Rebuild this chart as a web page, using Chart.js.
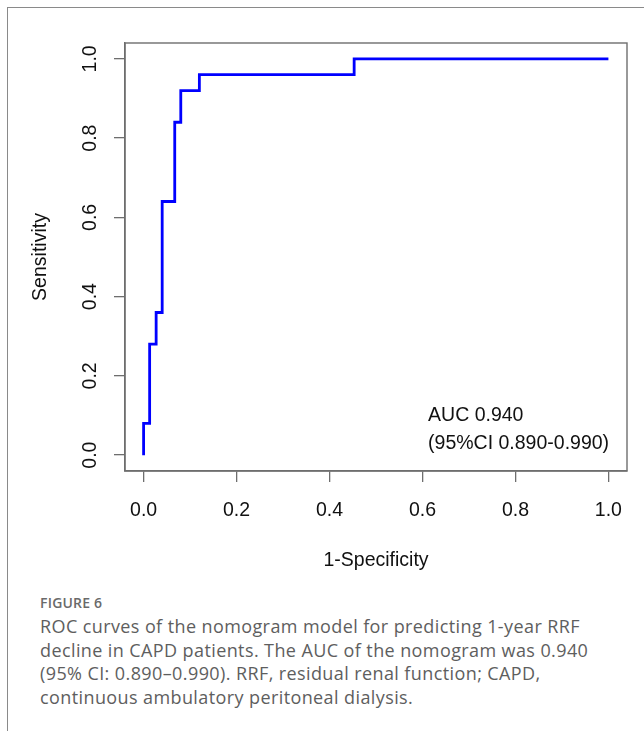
<!DOCTYPE html>
<html>
<head>
<meta charset="utf-8">
<script src="https://cdn.jsdelivr.net/npm/chart.js@4.4.1/dist/chart.umd.min.js"></script>
<style>
    html, body { margin: 0; padding: 0; background: #fff; }
    body { width: 644px; height: 731px; position: relative; overflow: hidden; }
    #frame {
        position: absolute; left: 7px; top: 7px; width: 700px; height: 760px;
        border-left: 1.5px solid #8a8a8a; border-top: 1.5px solid #8a8a8a;
    }
    #rocChart { position: absolute; left: 0; top: 0; }
    .fig-label {
        position: absolute; left: 40px; top: 593px;
        font-family: "Open Sans", sans-serif; font-size: 14px; font-weight: 600;
        color: #6a6a6a; letter-spacing: 0.2px;
    }
    .fig-caption {
        position: absolute; left: 40px; top: 615px;
        font-family: "Open Sans", sans-serif; font-size: 18px; line-height: 23.5px;
        letter-spacing: 0.4px; color: #5e5e5e; margin: 0;
    }
</style>
</head>
<body>
<div id="frame"></div>
<canvas id="rocChart" width="644" height="590"></canvas>
<div class="fig-label">FIGURE 6</div>
<p class="fig-caption">ROC curves of the nomogram model for predicting 1-year RRF<br>decline in CAPD patients. The AUC of the nomogram was 0.940<br>(95% CI: 0.890&#8211;0.990). RRF, residual renal function; CAPD,<br>continuous ambulatory peritoneal dialysis.</p>

<script>
// ROC curve vertices (1-specificity, sensitivity)
const fpr  = [0, 0, 0.013, 0.027, 0.04, 0.067, 0.08, 0.12, 0.453, 1.0];
const sens = [0, 0.08, 0.28, 0.36, 0.64, 0.84, 0.92, 0.96, 1.0, 1.0];

const xTicks = [0, 0.2, 0.4, 0.6, 0.8, 1.0];
const yTicks = [0, 0.2, 0.4, 0.6, 0.8, 1.0];

const aucLines = ['AUC 0.940', '(95%CI 0.890-0.990)'];
const aucPos = { x: 0.612, y: [0.10, 0.03] };

const axisColor = '#6e6e6e';
const labelFont = { family: 'Liberation Sans, Arial, sans-serif', size: 19.5 };

// box around the plot area, like R's box()
const boxPlugin = {
    id: 'plotBox',
    afterDraw(chart) {
        const { ctx, chartArea: a } = chart;
        ctx.save();
        ctx.strokeStyle = axisColor;
        ctx.lineWidth = 1.4;
        ctx.strokeRect(a.left, a.top, a.right - a.left, a.bottom - a.top);
        ctx.restore();
    }
};

// AUC annotation placed in data coordinates
const aucPlugin = {
    id: 'aucText',
    afterDatasetsDraw(chart) {
        const { ctx, scales } = chart;
        ctx.save();
        ctx.fillStyle = '#111';
        ctx.font = `${labelFont.size}px ${labelFont.family}`;
        ctx.textAlign = 'left';
        ctx.textBaseline = 'middle';
        aucLines.forEach((t, i) => {
            ctx.fillText(t, scales.x.getPixelForValue(aucPos.x), scales.y.getPixelForValue(aucPos.y[i]));
        });
        ctx.restore();
    }
};

const ctx = document.getElementById('rocChart').getContext('2d');
new Chart(ctx, {
    type: 'line',
    data: {
        datasets: [{
            data: fpr.map((x, i) => ({ x: x, y: sens[i] })),
            borderColor: '#0000FF',
            borderWidth: 2.8,
            stepped: 'before',
            pointRadius: 0,
            fill: false
        }]
    },
    options: {
        responsive: false,
        animation: false,
        devicePixelRatio: 1,
        layout: { padding: { left: 0, right: 17, top: 43, bottom: 0 } },
        plugins: { legend: { display: false }, tooltip: { enabled: false } },
        scales: {
            x: {
                type: 'linear',
                min: -0.04, max: 1.04,
                afterBuildTicks: s => { s.ticks = xTicks.map(v => ({ value: v })); },
                afterFit: s => { s.height = 119; },
                grid: { drawOnChartArea: false, drawTicks: true, tickLength: 11, color: axisColor, lineWidth: 1.3 },
                border: { display: true, color: axisColor, width: 1.4 },
                ticks: {
                    font: labelFont, color: '#111', padding: 17, maxRotation: 0,
                    callback: v => v.toFixed(1)
                },
                title: {
                    display: true, text: '1-Specificity', color: '#111', font: labelFont,
                    padding: { top: 0, bottom: 18 }
                }
            },
            y: {
                type: 'linear',
                min: -0.04, max: 1.04,
                afterBuildTicks: s => { s.ticks = yTicks.map(v => ({ value: v })); },
                afterFit: s => { s.width = 125; },
                grid: { drawOnChartArea: false, drawTicks: true, tickLength: 11, color: axisColor, lineWidth: 1.3 },
                border: { display: true, color: axisColor, width: 1.4 },
                ticks: {
                    font: labelFont, color: '#111', padding: 10,
                    minRotation: 90, maxRotation: 90, crossAlign: 'center',
                    callback: v => v.toFixed(1)
                },
                title: {
                    display: true, text: 'Sensitivity', color: '#111', font: labelFont,
                    padding: { top: 29, bottom: 0 }
                }
            }
        }
    },
    plugins: [boxPlugin, aucPlugin]
});
</script>
</body>
</html>
